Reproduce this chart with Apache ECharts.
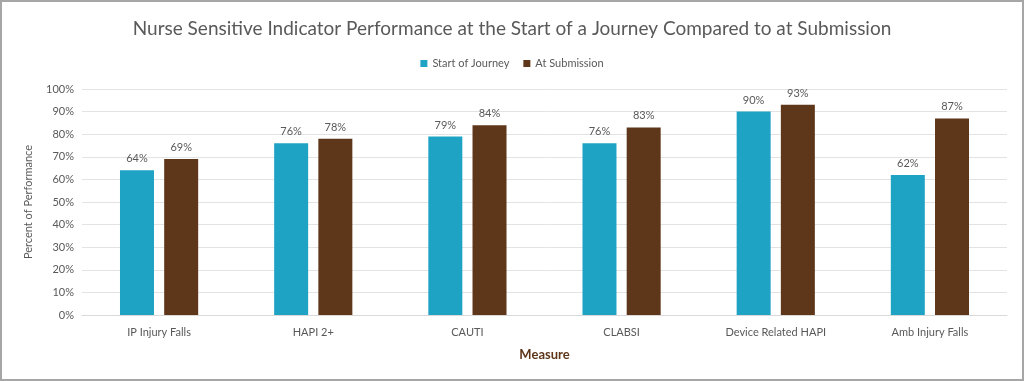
<!DOCTYPE html>
<html><head><meta charset="utf-8">
<script src="https://cdn.jsdelivr.net/npm/echarts@6/dist/echarts.min.js"></script>
<style>
html,body{margin:0;padding:0;background:#fff;}
#wrap{width:1024px;height:381px;box-sizing:border-box;border:2px solid #a6a6a6;}
#c{width:1020px;height:377px;}
</style></head><body>
<div id="wrap"><div id="c"></div></div>
<script>
const categories = ["IP Injury Falls","HAPI 2+","CAUTI","CLABSI","Device Related HAPI","Amb Injury Falls"];
const startOfJourney = [64,76,79,76,90,62];
const atSubmission = [69,78,84,83,93,87];
const seriesNames = ["Start of Journey","At Submission"];

const chart = echarts.init(document.getElementById('c'));
const labelStyle = {show:true, position:'top', formatter:'{c}%', color:'#595959', fontSize:11, fontFamily:'Lato', distance:6};
chart.setOption({
  animation:false,
  textStyle:{fontFamily:'Lato'},
  title:{text:'Nurse Sensitive Indicator Performance at the Start of a Journey Compared to at Submission',
    left:'center', top:12, textStyle:{color:'#595959', fontSize:19, fontWeight:'normal', fontFamily:'Lato'}},
  legend:{data:seriesNames, top:51, left:'center', itemWidth:7, itemHeight:7, itemGap:14,
    textStyle:{color:'#595959', fontSize:11, fontFamily:'Lato'}, icon:'rect'},
  grid:{left:80, right:15, top:87, bottom:64},
  xAxis:{type:'category', data:categories,
    axisLine:{lineStyle:{color:'#d9d9d9'}}, axisTick:{show:false},
    axisLabel:{color:'#595959', fontSize:11, margin:12},
    name:'Measure', nameLocation:'middle', nameGap:33,
    nameTextStyle:{color:'#5e361a', fontWeight:'bold', fontSize:13}},
  yAxis:{type:'value', min:0, max:100, interval:10,
    axisLabel:{formatter:'{value}%', color:'#595959', fontSize:11},
    splitLine:{lineStyle:{color:'#e3e3e3'}},
    name:'Percent of Performance', nameLocation:'middle', nameGap:48,
    nameTextStyle:{color:'#595959', fontSize:11}},
  series:[
    {name:seriesNames[0], type:'bar', data:startOfJourney, barWidth:34, barGap:'30%',
      itemStyle:{color:'#1fa3c4'}, label:labelStyle},
    {name:seriesNames[1], type:'bar', data:atSubmission, barWidth:34,
      itemStyle:{color:'#5e361a'}, label:labelStyle}
  ]
});
</script>
</body></html>
